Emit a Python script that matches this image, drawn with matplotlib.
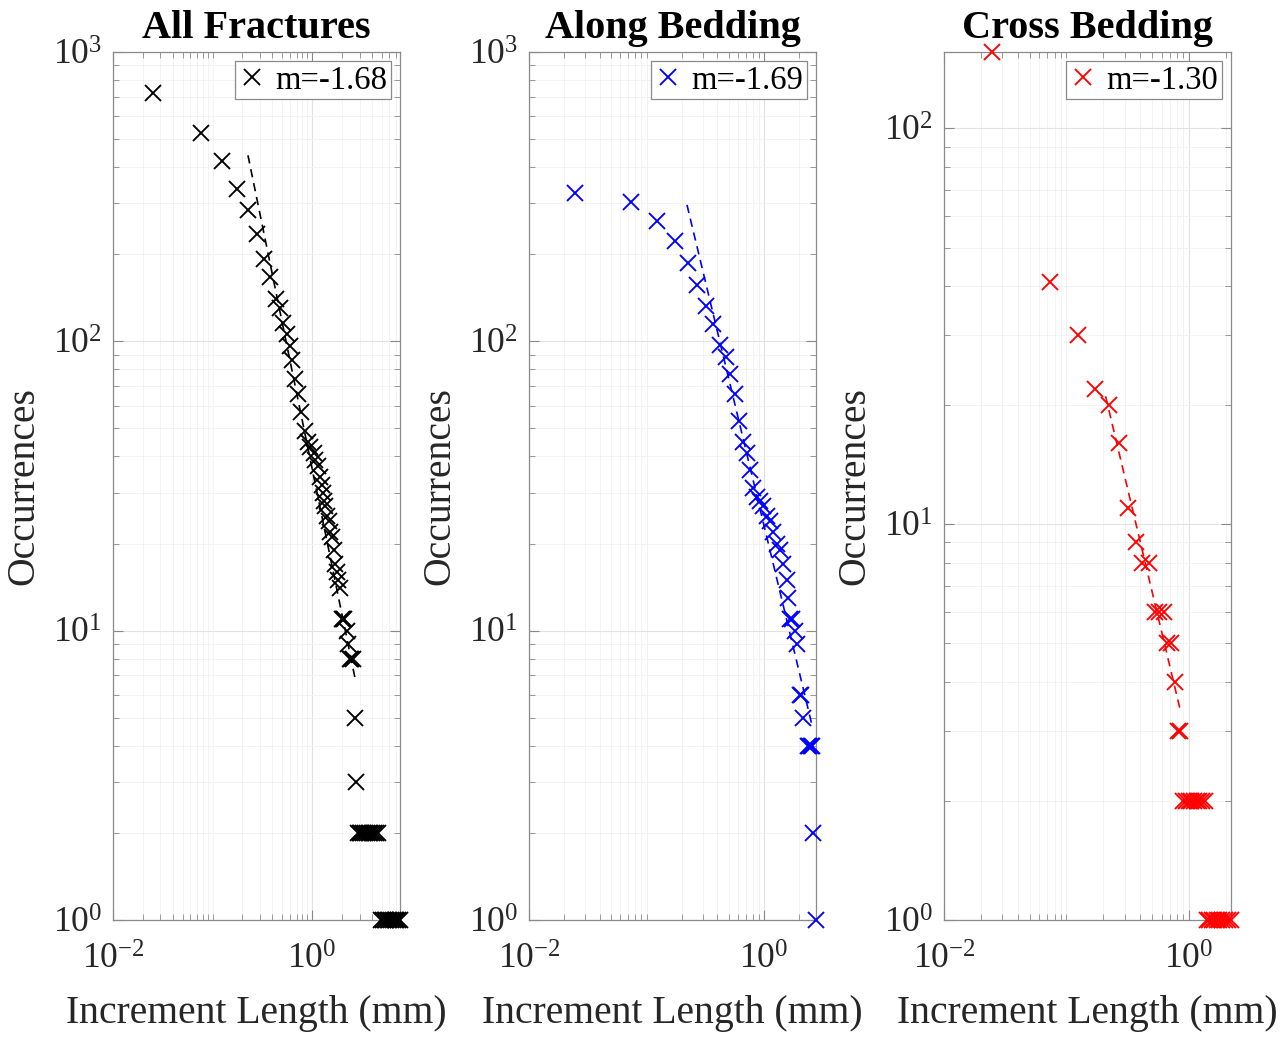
import numpy as np
import matplotlib.pyplot as plt
from matplotlib.ticker import FixedLocator, LogLocator, LogFormatterMathtext, NullFormatter

plt.rcParams['font.family'] = ['Liberation Serif', 'DejaVu Serif']
plt.rcParams['mathtext.fontset'] = 'custom'
plt.rcParams['mathtext.rm'] = 'Liberation Serif'

# --- Todas as fraturas ---
comp_todas = [0.0252, 0.0766, 0.1246, 0.1762, 0.2274, 0.280, 0.329, 0.378, 0.435, 0.477,
              0.511, 0.561, 0.600, 0.630, 0.675, 0.723, 0.775, 0.850, 0.912, 0.955,
              1.047, 1.072, 1.149, 1.203, 1.26, 1.29, 1.32, 1.35, 1.415, 1.48,
              1.517, 1.589, 1.664, 1.703, 1.783, 1.825, 1.912, 2.00, 2.05, 2.10,
              2.247, 2.30, 2.41, 2.47, 2.58, 2.71, 2.77,
              2.90, 3.00, 3.10, 3.25, 3.40, 3.55, 3.70, 3.85, 4.00, 4.20, 4.40, 4.60,
              4.95, 5.15, 5.35, 5.55, 5.75, 6.00, 6.25, 6.50, 6.75, 7.00, 7.30, 7.65]
ocorr_todas = [722, 525, 420, 336, 285, 235, 193, 167, 140, 130,
               116, 106, 96, 86, 74, 66, 57, 49, 45, 43,
               41, 39, 37, 34, 32, 30, 28, 27, 25, 24,
               22, 21, 19, 17, 16, 15, 14, 11, 11, 11,
               10, 9, 8, 8, 8, 5, 3,
               2, 2, 2, 2, 2, 2, 2, 2, 2, 2, 2, 2,
               1, 1, 1, 1, 1, 1, 1, 1, 1, 1, 1, 1]

# --- Ao longo do acamamento ---
comp_ao_longo = [0.0246, 0.0738, 0.1229, 0.1748, 0.2255, 0.269, 0.3209, 0.368, 0.422, 0.475,
                 0.5137, 0.5666, 0.6128, 0.6627, 0.7167, 0.760, 0.806, 0.872, 0.925, 0.98,
                 1.06, 1.125, 1.19, 1.29, 1.37, 1.45, 1.57, 1.60, 1.68, 1.72,
                 1.835, 1.91, 2.04, 2.08, 2.15, 2.35, 2.42, 2.50, 2.58, 2.63, 2.77]
ocorr_ao_longo = [326, 303, 261, 222, 187, 157, 132, 115, 97, 88,
                  77, 66, 53, 45, 41, 36, 31, 29, 28, 27,
                  25, 24, 22, 20, 19, 17, 15, 13, 11, 11,
                  10, 9, 6, 6, 5, 4, 4, 4, 4, 2, 1]

# --- Cruzando o acamamento ---
comp_cruzado = [0.0246, 0.0739, 0.1238, 0.1728, 0.2222, 0.2684, 0.319, 0.3678, 0.4174, 0.4727,
                0.526, 0.571, 0.624, 0.669, 0.712, 0.768, 0.82, 0.845,
                0.90, 0.95, 1.00, 1.05, 1.10, 1.16, 1.22, 1.28, 1.35,
                1.40, 1.47, 1.54, 1.62, 1.70, 1.78, 1.87, 1.96, 2.07, 2.21]
ocorr_cruzado = [156, 41, 30, 22, 20, 16, 11, 9, 8, 8,
                 6, 6, 6, 5, 5, 4, 3, 3,
                 2, 2, 2, 2, 2, 2, 2, 2, 2,
                 1, 1, 1, 1, 1, 1, 1, 1, 1, 1]

# ajuste de lei de potencia: (coeficiente, expoente m, x inicial, x final)
ajuste_todas = (36.4, -1.68, 0.227, 2.75)
ajuste_ao_longo = (23.1, -1.69, 0.221, 2.56)
ajuste_cruzado = (2.75, -1.30, 0.209, 0.86)

titulos = ['All Fractures', 'Along Bedding', 'Cross Bedding']
cores = ['#000000', '#0000ff', '#ff0000']
esquerdas = [113, 529, 944]

COR_EIXO = '#8a8a8a'
COR_TEXTO = '#262626'


def plotar_painel(ax, comp, ocorr, ajuste, cor, titulo, y_topo):
    coef, m, x0, x1 = ajuste
    x_aj = np.array([x0, x1])
    ax.plot(x_aj, coef * x_aj ** m, linestyle=(0, (5, 3.5)), color=cor, lw=1.2, zorder=2)
    ax.plot(comp, ocorr, linestyle='none', marker='x', ms=12, mew=1.35, color=cor,
            label=f'm={m:.2f}', zorder=3, clip_on=False)

    ax.set_xscale('log')
    ax.set_yscale('log')
    ax.set_xlim(0.01, max(comp))
    ax.set_ylim(1, y_topo)

    ax.xaxis.set_major_locator(FixedLocator([1e-2, 1e0]))
    ax.xaxis.set_minor_locator(LogLocator(base=10, subs=np.arange(1, 10), numticks=30))
    ax.yaxis.set_major_locator(LogLocator(base=10, numticks=10))
    ax.yaxis.set_minor_locator(LogLocator(base=10, subs=np.arange(2, 10), numticks=30))
    ax.xaxis.set_major_formatter(LogFormatterMathtext())
    ax.yaxis.set_major_formatter(LogFormatterMathtext())
    ax.xaxis.set_minor_formatter(NullFormatter())
    ax.yaxis.set_minor_formatter(NullFormatter())

    ax.tick_params(which='both', direction='in', top=True, right=True, color=COR_EIXO,
                   labelcolor=COR_TEXTO, labelsize=25.5)
    ax.tick_params(which='major', length=7, width=0.8)
    ax.tick_params(which='minor', length=4, width=0.6)
    ax.tick_params(axis='x', which='major', pad=17)
    ax.tick_params(axis='y', which='major', pad=8)

    ax.grid(True, which='major', color='#e2e2e2', lw=0.8)
    ax.grid(True, which='minor', color='#f1f1f1', lw=0.6)
    ax.set_axisbelow(True)
    for sp in ax.spines.values():
        sp.set_color(COR_EIXO)
        sp.set_linewidth(0.9)

    ax.set_title(titulo, fontsize=29, fontweight='bold', pad=10)
    ax.set_xlabel('Increment Length (mm)', fontsize=28.5, color=COR_TEXTO)
    ax.set_ylabel('Occurrences', fontsize=28.5, color=COR_TEXTO)
    ax.xaxis.set_label_coords(0.5, -0.086)
    ax.yaxis.set_label_coords(-0.245, 0.5)

    leg = ax.legend(loc='upper right', fontsize=23.5, frameon=True, fancybox=False,
                    borderaxespad=0.28, borderpad=0.12, handlelength=0.8,
                    handletextpad=0.3, framealpha=1)
    leg.get_frame().set_edgecolor('#8a8a8a')
    leg.get_frame().set_linewidth(0.9)


fig = plt.figure(figsize=(12.8, 10.37), dpi=100)

dados = [
    (comp_todas, ocorr_todas, ajuste_todas, 1000),
    (comp_ao_longo, ocorr_ao_longo, ajuste_ao_longo, 1000),
    (comp_cruzado, ocorr_cruzado, ajuste_cruzado, max(ocorr_cruzado)),
]

for i, (comp, ocorr, ajuste, y_topo) in enumerate(dados):
    ax = fig.add_axes([esquerdas[i] / 1280, 117 / 1037, 287 / 1280, 868 / 1037])
    plotar_painel(ax, comp, ocorr, ajuste, cores[i], titulos[i], y_topo)

fig.savefig('out.png', dpi=100, facecolor='white')
